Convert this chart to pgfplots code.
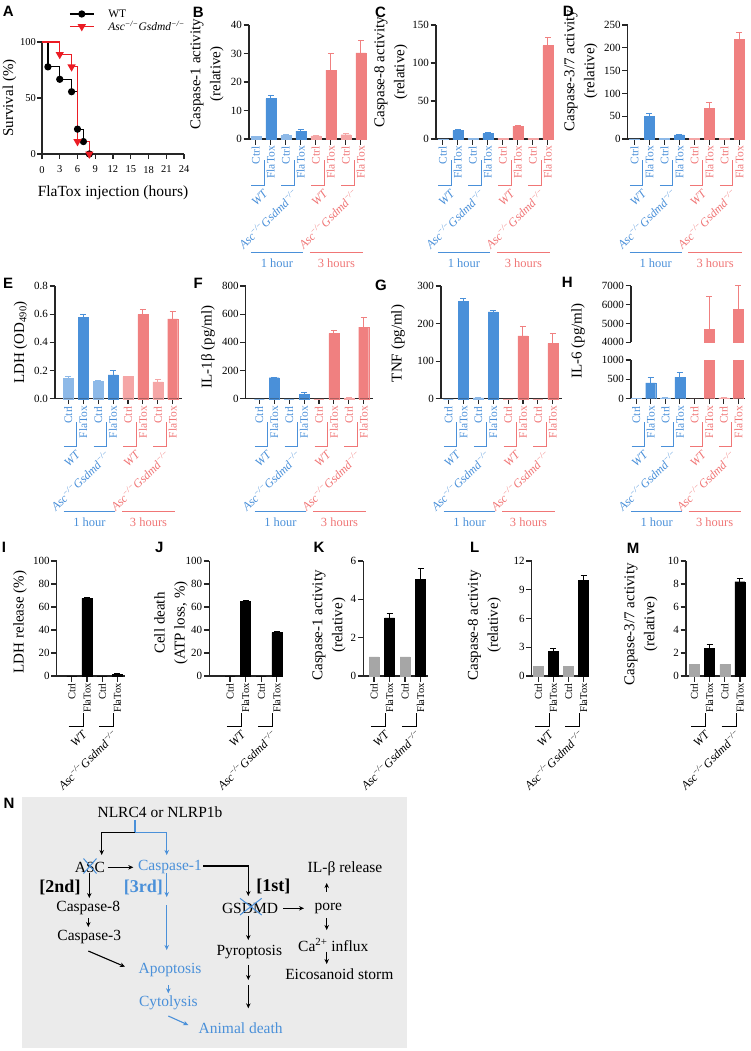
\documentclass[border=0pt]{standalone}
\usepackage{fontspec}
\setmainfont{Liberation Serif}
\newfontfamily\lett{Liberation Sans}
\usepackage{pgfplots}
\pgfplotsset{compat=1.18}
\usetikzlibrary{arrows.meta}

\definecolor{cblue}{RGB}{74,144,217}
\definecolor{cbluel}{RGB}{141,185,232}
\definecolor{cred}{RGB}{240,128,128}
\definecolor{credl}{RGB}{245,166,166}
\definecolor{tblue}{RGB}{74,144,217}
\definecolor{tred}{RGB}{240,118,118}
\definecolor{cgray}{RGB}{166,166,166}
\definecolor{boxgray}{RGB}{235,235,235}
\definecolor{sred}{RGB}{235,28,36}

\newcommand\fs[1]{\fontsize{#1}{#1}\selectfont}
\newcommand\KO{\textit{Asc\textsuperscript{−/−}Gsdmd\textsuperscript{−/−}}}

\pgfplotsset{
  base/.style={scale only axis, axis x line*=bottom, axis y line*=left,
    tick align=outside, axis line style={line width=1.1pt, black!85},
    major tick length=5.5pt, tick style={line width=1.1pt, black!85},
    ymin=0, clip=false, scaled y ticks=false,
    /pgf/number format/assume math mode=true,
    /pgf/number format/1000 sep={},
    tick label style={font=\fs{11}},
    yticklabel style={inner sep=1.5pt},
    ylabel style={font=\fontsize{15}{20}\selectfont, align=center, anchor=center}},
  cat/.style={base, xtick={0,...,7},
    xticklabels={{\color{tblue}Ctrl},{\color{tblue}FlaTox},{\color{tblue}Ctrl},{\color{tblue}FlaTox},
      {\color{tred}Ctrl},{\color{tred}FlaTox},{\color{tred}Ctrl},{\color{tred}FlaTox}},
    x tick label style={rotate=90, anchor=east, inner sep=1.5pt, font=\fs{11.5}}},
  cat3/.style={base, xtick={0,...,3}, xticklabels={Ctrl,FlaTox,Ctrl,FlaTox},
    x tick label style={rotate=90, anchor=east, inner sep=1.5pt, font=\fs{10.5}},
    height=115pt, ymin=0},
  bar/.style={ybar, bar width=10pt, bar shift=0pt, draw=#1, fill=#1, line width=0.4pt,
    /pgfplots/error bars/y dir=plus, /pgfplots/error bars/y explicit,
    /pgfplots/error bars/error bar style={line width=1pt, color=#1},
    /pgfplots/error bars/error mark options={rotate=90, mark size=3pt, line width=1pt, color=#1}},
}

% group line under a Ctrl/FlaTox pair, then its rotated label
\newcommand\grp[4]{%
  \draw[#3, line width=0.9pt] ([yshift=-\gy]axis cs:#1,0) -- ([yshift=-\gy]axis cs:#2,0) -- ([yshift=-\gv]axis cs:#2,0);
  \node[#3, rotate=45, anchor=east, inner sep=0pt, font=\fs{12}] at ([xshift=2pt, yshift=-\gy-6pt]axis cs:#2,0) {#4};}
\newcommand\tl[4]{%
  \draw[#3, line width=0.9pt] ([yshift=-113pt]axis cs:#1,0) -- ([yshift=-113pt]axis cs:#2,0)
    node[midway, yshift=-11pt, inner sep=0pt, font=\fs{12.5}] {#4};}
\newcommand\grps{%
  \grp{-0.3}{0.55}{tblue}{\textit{WT}}\grp{1.7}{2.55}{tblue}{\KO}%
  \grp{3.7}{4.55}{tred}{\textit{WT}}\grp{5.7}{6.55}{tred}{\KO}%
  \tl{-0.32}{3.15}{tblue}{1 hour}\tl{3.6}{7.15}{tred}{3 hours}}
\newcommand\grpsk{\grp{-0.2}{0.75}{black}{\textit{WT}}\grp{1.8}{2.75}{black}{\KO}}

\begin{document}
\begin{tikzpicture}
\path[use as bounding box] (0pt,0pt) rectangle (750pt,-1051pt);

% ---------------- A
\begin{axis}[base, at={(42pt,-154pt)}, anchor=south west, width=142pt, height=112pt,
  xmin=0, xmax=24, ymax=100, xtick={0,3,...,24}, ytick={0,50,100}, major tick length=4.5pt,
  x tick label style={font=\fs{10.5}, yshift=-4pt}, y tick label style={font=\fs{10.5}},
  xlabel={FlaTox injection (hours)},
  xlabel style={font=\fs{15.5}, at={(axis description cs:0.5,-0.345)}, anchor=center},
  ylabel={Survival (\%)}, ylabel style={at={(axis description cs:-0.229,0.5)}},
  legend style={draw=none, fill=none, at={(axis description cs:0.19,1.31)}, anchor=north west,
    font=\fs{11.5}, row sep=-1.5pt, inner sep=0pt, cells={anchor=west},
    /tikz/every odd column/.append style={column sep=12pt}},
  legend image code/.code={\draw[#1] (0pt,0pt) -- (24pt,0pt);
    \draw[#1, only marks, mark indices={1}] plot coordinates {(12pt,0pt)};}]
\addplot[black, line width=1.2pt, const plot, mark=*, mark size=3pt, mark indices={2,...,7}]
  coordinates {(0,100) (1,77.8) (3,66.7) (5,55.6) (6,22.2) (7,11.1) (8,0)};
\addlegendentry{WT}
\addplot[sred, line width=1.2pt, const plot, mark=triangle*, mark size=3.6pt,
  mark options={rotate=180}, mark indices={2,...,5}]
  coordinates {(0,100) (3,88.9) (5,77.8) (6,11.1) (8,0)};
\addlegendentry{\KO}
\end{axis}

% ---------------- row 1
\def\gy{46pt}\def\gv{21pt}
\begin{axis}[cat, at={(249pt,-139pt)}, anchor=south west, width=117.75pt, height=114pt,
  xmin=-0.45, xmax=7.4, ymax=40, ytick={0,10,...,40},
  ylabel={Caspase-1 activity\\(relative)}, ylabel style={at={(axis description cs:-0.357,0.57)}}]
\addplot[bar=cbluel] coordinates {(0,0.9) +- (0,0.1) (2,1.2) +- (0,0.3)};
\addplot[bar=cblue] coordinates {(1,14.2) +- (0,1.1) (3,2.8) +- (0,0.5)};
\addplot[bar=credl] coordinates {(4,1.1) +- (0,0.3) (6,1.5) +- (0,0.3)};
\addplot[bar=cred] coordinates {(5,24.2) +- (0,5.8) (7,30.2) +- (0,4.2)};
\grps
\end{axis}

\begin{axis}[cat, at={(436pt,-139pt)}, anchor=south west, width=117.75pt, height=114pt,
  xmin=-0.45, xmax=7.4, ymax=150, ytick={0,50,...,150},
  ylabel={Caspase-8 activity\\(relative)}, ylabel style={at={(axis description cs:-0.382,0.585)}}]
\addplot[bar=cbluel] coordinates {(0,0.3) (2,0.8) +- (0,0.2)};
\addplot[bar=cblue] coordinates {(1,11) +- (0,1) (3,7) +- (0,1)};
\addplot[bar=credl] coordinates {(4,1) +- (0,0.2) (6,1) +- (0,0.2)};
\addplot[bar=cred] coordinates {(5,17) +- (0,0.8) (7,123) +- (0,10)};
\grps
\end{axis}

\begin{axis}[cat, at={(627.7pt,-139pt)}, anchor=south west, width=117.75pt, height=114pt,
  xmin=-0.45, xmax=7.4, ymax=250, ytick={0,50,...,250},
  ylabel={Caspase-3/7 activity\\(relative)}, ylabel style={at={(axis description cs:-0.397,0.6)}}]
\addplot[bar=cbluel] coordinates {(0,0.3) (2,1) +- (0,0.2)};
\addplot[bar=cblue] coordinates {(1,50) +- (0,5) (3,9) +- (0,1)};
\addplot[bar=credl] coordinates {(4,1) +- (0,0.2) (6,1) +- (0,0.2)};
\addplot[bar=cred] coordinates {(5,67) +- (0,13) (7,218) +- (0,15)};
\grps
\end{axis}

% ---------------- row 2
\def\gy{48pt}\def\gv{23pt}
\begin{axis}[cat, at={(55pt,-398.7pt)}, anchor=south west, width=126.7pt, height=112.7pt,
  xmin=-0.89, xmax=7.6, ymax=0.8, ytick={0,0.2,...,0.8},
  y tick label style={/pgf/number format/fixed, /pgf/number format/fixed zerofill, /pgf/number format/precision=1},
  ylabel={LDH (OD\textsubscript{490})}, ylabel style={at={(axis description cs:-0.272,0.5)}}]
\addplot[bar=cbluel] coordinates {(0,0.145) +- (0,0.012) (2,0.125) +- (0,0.007)};
\addplot[bar=cblue] coordinates {(1,0.578) +- (0,0.02) (3,0.17) +- (0,0.028)};
\addplot[bar=credl] coordinates {(4,0.157) +- (0,0.004) (6,0.12) +- (0,0.019)};
\addplot[bar=cred] coordinates {(5,0.598) +- (0,0.035) (7,0.566) +- (0,0.05)};
\grps
\end{axis}

\begin{axis}[cat, at={(245.7pt,-398.7pt)}, anchor=south west, width=127pt, height=112.7pt,
  xmin=-0.91, xmax=7.6, ymax=800, ytick={0,200,...,800},
  ylabel={IL-1β (pg/ml)}, ylabel style={at={(axis description cs:-0.297,0.46)}}]
\addplot[bar=cbluel] coordinates {(0,0) (2,0)};
\addplot[bar=cblue] coordinates {(1,149) +- (0,5) (3,30) +- (0,14)};
\addplot[bar=credl] coordinates {(4,0) (6,5) +- (0,2)};
\addplot[bar=cred] coordinates {(5,463) +- (0,21) (7,509) +- (0,65)};
\grps
\end{axis}

\begin{axis}[cat, at={(441pt,-398.7pt)}, anchor=south west, width=120.7pt, height=112.7pt,
  xmin=-0.5, xmax=7.6, ymax=300, ytick={0,100,...,300},
  ylabel={TNF (pg/ml)}, ylabel style={at={(axis description cs:-0.356,0.49)}}]
\addplot[bar=cbluel] coordinates {(0,0) (2,2) +- (0,1)};
\addplot[bar=cblue] coordinates {(1,260) +- (0,8) (3,231) +- (0,3)};
\addplot[bar=credl] coordinates {(4,0) (6,0)};
\addplot[bar=cred] coordinates {(5,167) +- (0,24) (7,147) +- (0,26)};
\grps
\end{axis}

% H, broken axis: upper part
\begin{axis}[base, at={(631pt,-342.3pt)}, anchor=south west, width=113.9pt, height=56.7pt,
  axis x line=none, xtick=\empty, clip=true,
  xmin=-0.35, xmax=7.45, ymin=4000, ymax=7000, ytick={4000,5000,6000,7000}]
\addplot[bar=cred] coordinates {(5,4680) +- (0,1760) (7,5740) +- (0,1250)};
\end{axis}
% H lower part
\begin{axis}[cat, at={(631pt,-398.7pt)}, anchor=south west, width=113.9pt, height=38.7pt,
  xmin=-0.35, xmax=7.45, ymax=1000, ytick={0,500,1000}, clip=true, clip mode=individual,
  ylabel={IL-6 (pg/ml)}, ylabel style={at={(axis description cs:-0.465,1.49)}}]
\addplot[bar=cbluel] coordinates {(0,8) +- (0,4) (2,20) +- (0,6)};
\addplot[bar=cblue] coordinates {(1,410) +- (0,130) (3,560) +- (0,120)};
\addplot[bar=credl] coordinates {(4,0) (6,20) +- (0,10)};
\addplot[bar=cred] coordinates {(5,4680) (7,5740)};
\grps
\end{axis}

% ---------------- row 3
\def\gy{50pt}\def\gv{37pt}
\begin{axis}[cat3, at={(56.7pt,-676pt)}, anchor=south west, width=68.3pt,
  xmin=-0.99, xmax=3.5, ymax=100, ytick={0,20,...,100},
  ylabel={LDH release (\%)}, ylabel style={at={(axis description cs:-0.537,0.47)}}]
\addplot[bar=black] coordinates {(0,0) (1,67.5) +- (0,0.8) (2,0) (3,1.5) +- (0,0.5)};
\grpsk
\end{axis}

\begin{axis}[cat3, at={(209.3pt,-676pt)}, anchor=south west, width=74pt,
  xmin=-1.33, xmax=3.42, ymax=100, ytick={0,20,...,100},
  ylabel={Cell death\\(ATP loss, \%)}, ylabel style={at={(axis description cs:-0.518,0.46)}}]
\addplot[bar=black] coordinates {(0,0) (1,64.8) +- (0,1.1) (2,0) (3,37.7) +- (0,1.4)};
\grpsk
\end{axis}

\begin{axis}[cat3, at={(363.3pt,-676pt)}, anchor=south west, width=64.7pt,
  xmin=-0.69, xmax=3.48, ymax=6, ytick={0,2,...,6},
  ylabel={Caspase-1 activity\\(relative)}, ylabel style={at={(axis description cs:-0.53,0.44)}}]
\addplot[bar=cgray] coordinates {(0,1) (2,1)};
\addplot[bar=black] coordinates {(1,3.03) +- (0,0.21) (3,5.05) +- (0,0.55)};
\grpsk
\end{axis}

\begin{axis}[cat3, at={(531.7pt,-676pt)}, anchor=south west, width=57.6pt,
  xmin=-0.43, xmax=3.38, ymax=12, ytick={0,3,...,12},
  ylabel={Caspase-8 activity\\(relative)}, ylabel style={at={(axis description cs:-0.82,0.44)}}]
\addplot[bar=cgray] coordinates {(0,1) (2,1)};
\addplot[bar=black] coordinates {(1,2.56) +- (0,0.35) (3,10.0) +- (0,0.45)};
\grpsk
\end{axis}

\begin{axis}[cat3, at={(686pt,-676pt)}, anchor=south west, width=59pt,
  xmin=-0.55, xmax=3.33, ymax=10, ytick={0,2,...,10},
  ylabel={Caspase-3/7 activity\\(relative)}, ylabel style={at={(axis description cs:-0.763,0.45)}}]
\addplot[bar=cgray] coordinates {(0,1) (2,1)};
\addplot[bar=black] coordinates {(1,2.38) +- (0,0.33) (3,8.2) +- (0,0.25)};
\grpsk
\end{axis}

% ---------------- panel letters and scheme N
\begin{scope}[x=1pt, y=-1pt]
\foreach \l/\x/\y in {A/2.7/6, B/192.7/6.7, C/375/6.7, D/562.7/6, E/3/278, F/193.3/278.3,
  G/375/280, H/561.7/276.7, I/1.7/541.7, J/155/541.7, K/313.3/541.7, L/470/541.7,
  M/626.7/543.3, N/3.3/798.3}
  \node[anchor=north west, inner sep=0pt, font=\lett\bfseries\fs{15}] at (\x,\y) {\l};

\fill[boxgray] (21.7,797.3) rectangle (406.7,1048.3);
\begin{scope}[font=\fs{15.5}, every node/.style={inner sep=0pt},
  arr/.style={-{Stealth[length=5pt,width=4.5pt]}, line width=1.1pt}]
\node at (160,811.7) {NLRC4 or NLRP1b};
\draw[tblue, line width=1.1pt] (135,820) -- (135,832.7);
\draw[arr, tblue] (135,832.7) -- (166.7,832.7) -- (166.7,855);
\draw[arr] (135,832.7) -- (101.7,832.7) -- (101.7,855);
\node at (90,867.3) {ASC};
\draw[tblue, line width=1pt] (83.5,858.5) -- (96.5,873.5) (83.5,873.5) -- (96.5,858.5);
\draw[arr] (107.7,867.3) -- (133.3,867.3);
\node[tblue] at (170,867.3) {Caspase-1};
\draw[arr] (203,866) -- (248.3,866) -- (248.3,896);
\draw[arr] (89.3,873) -- (89.3,898);
\node[font=\bfseries\fs{18}] at (60,887.3) {[2nd]};
\node[font=\bfseries\fs{18}, tblue] at (143.3,887.3) {[3rd]};
\node[font=\bfseries\fs{18}] at (273.3,886.7) {[1st]};
\draw[arr, tblue] (166.7,873) -- (166.7,897);
\draw[arr, tblue] (166.7,905) -- (166.7,950);
\node at (88.3,908.3) {Caspase-8};
\draw[arr] (88.3,918) -- (88.3,927);
\node at (89.3,936.7) {Caspase-3};
\draw[arr] (88.3,951) -- (125,966.7);
\node[tblue] at (170,970) {Apoptosis};
\draw[arr, tblue] (168.3,985) -- (168.3,993.3);
\node[tblue] at (168.3,1002.7) {Cytolysis};
\draw[arr, tblue] (168.3,1016) -- (188.3,1025);
\node[tblue] at (240.7,1028.3) {Animal death};
\node at (250,908.3) {GSDMD};
\draw[tblue, line width=1pt] (240,898.3) -- (261.7,915) (240,915) -- (261.7,898.3);
\draw[arr] (283.3,908.3) -- (304,908.3);
\node at (328.3,908.3) {pore};
\draw[arr] (326.7,891.7) -- (326.7,883);
\node at (345,869) {IL-β release};
\draw[arr] (326.7,918.3) -- (326.7,930);
\node at (333.3,945) {Ca\textsuperscript{2+} influx};
\draw[arr] (326.7,951.7) -- (326.7,964);
\node at (339.3,974) {Eicosanoid storm};
\draw[arr] (248.3,916) -- (248.3,940);
\node at (249.3,951.7) {Pyroptosis};
\draw[arr] (248.3,965) -- (248.3,980);
\draw[arr] (248.3,985) -- (248.3,1008.3);
\end{scope}
\end{scope}
\end{tikzpicture}
\end{document}
